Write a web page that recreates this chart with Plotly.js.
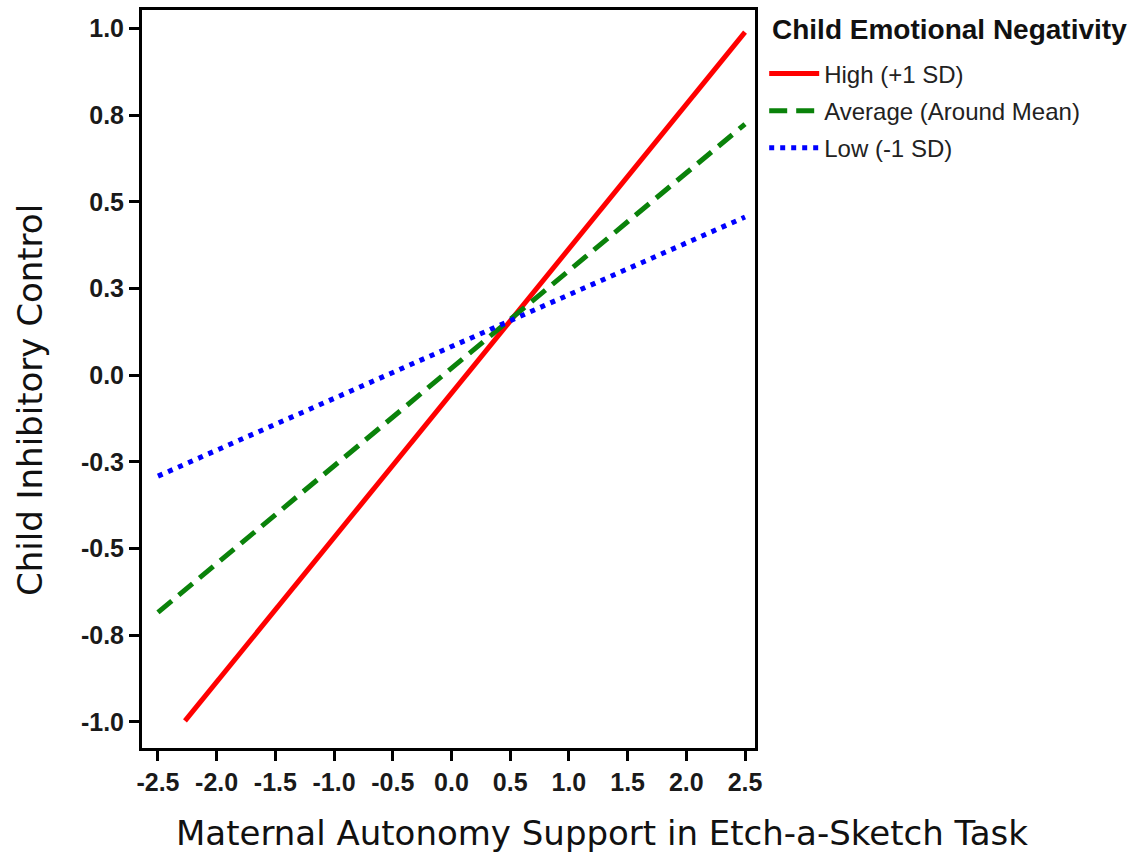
<!DOCTYPE html>
<html>
<head>
<meta charset="utf-8">
<script src="https://cdn.plot.ly/plotly-3.0.1.min.js"></script>
<style>html,body{margin:0;padding:0;background:#fff;}#chart{width:1145px;height:858px;}</style>
</head>
<body>
<div id="chart"></div>
<script>
// Data
const seriesNames = ["High (+1 SD)", "Average (Around Mean)", "Low (-1 SD)"];
const highX = [-2.27, 2.5];
const highY = [-0.997, 0.989];
const avgX = [-2.5, 2.5];
const avgY = [-0.684, 0.724];
const lowX = [-2.5, 2.5];
const lowY = [-0.291, 0.456];
const xTickVals = [-2.5, -2.0, -1.5, -1.0, -0.5, 0.0, 0.5, 1.0, 1.5, 2.0, 2.5];
const xTickText = ["-2.5", "-2.0", "-1.5", "-1.0", "-0.5", "0.0", "0.5", "1.0", "1.5", "2.0", "2.5"];
const yTickVals = [1.0, 0.75, 0.5, 0.25, 0.0, -0.25, -0.5, -0.75, -1.0];
const yTickText = ["1.0", "0.8", "0.5", "0.3", "0.0", "-0.3", "-0.5", "-0.8", "-1.0"];
const xTitle = "Maternal Autonomy Support in Etch-a-Sketch Task";
const yTitle = "Child Inhibitory Control";
const legendTitle = "Child Emotional Negativity";

const tickFont = {family: "'Liberation Sans', Arial, sans-serif", size: 25, color: "#1a1a1a", weight: "bold"};
const titleFont = {family: "'DejaVu Sans', sans-serif", size: 34, color: "#111"};

const traces = [
  {x: highX, y: highY, name: seriesNames[0], legendgroup: "g1", mode: "lines", line: {color: "#ff0000", width: 5}},
  {x: avgX, y: avgY, name: seriesNames[1], legendgroup: "g2", mode: "lines", line: {color: "#0a820a", width: 5, dash: "18px,9px"}},
  {x: lowX, y: lowY, name: seriesNames[2], legendgroup: "g3", mode: "lines", line: {color: "#0000ff", width: 5, dash: "5px,6px"}}
];

const layout = {
  width: 1145, height: 858,
  margin: {l: 142, r: 390, t: 10, b: 110},
  paper_bgcolor: "#fff", plot_bgcolor: "#fff",
  showlegend: true,
  legend: {
    x: 1.015, xanchor: "left", y: 0.944, yanchor: "top",
    font: {family: "'Liberation Sans', Arial, sans-serif", size: 24, color: "#222"},
    traceorder: "grouped", tracegroupgap: 3,
    itemwidth: 50, bgcolor: "rgba(0,0,0,0)"
  },
  xaxis: {
    range: [-2.636, 2.585],
    tickvals: xTickVals, ticktext: xTickText,
    ticks: "outside", ticklen: 10, tickwidth: 3, tickcolor: "#000",
    showline: true, linecolor: "#000", linewidth: 3, mirror: true,
    showgrid: false, zeroline: false,
    tickfont: tickFont
  },
  yaxis: {
    range: [-1.075, 1.053],
    tickvals: yTickVals, ticktext: yTickText,
    ticks: "outside", ticklen: 10, tickwidth: 3, tickcolor: "#000",
    showline: true, linecolor: "#000", linewidth: 3, mirror: true,
    showgrid: false, zeroline: false,
    tickfont: tickFont
  },
  annotations: [
    {text: xTitle, xref: "paper", yref: "paper", x: 0.750, y: -0.115, xanchor: "center", yanchor: "middle", showarrow: false, font: titleFont},
    {text: yTitle, xref: "paper", yref: "paper", x: -0.1827, y: 0.4715, xanchor: "center", yanchor: "middle", textangle: -90, showarrow: false, font: titleFont},
    {text: "<b>" + legendTitle + "</b>", xref: "paper", yref: "paper", x: 1.0245, y: 0.973, xanchor: "left", yanchor: "middle", showarrow: false, font: {family: "'Liberation Sans', Arial, sans-serif", size: 28, color: "#111"}}
  ]
};

Plotly.newPlot("chart", traces, layout, {displayModeBar: false, staticPlot: true});
</script>
</body>
</html>
